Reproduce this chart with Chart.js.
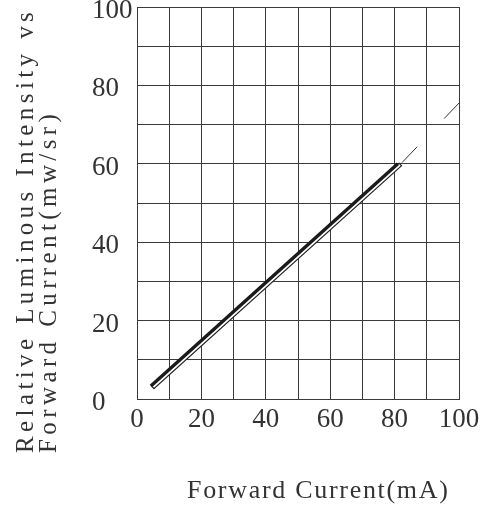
<!DOCTYPE html>
<html>
<head>
<meta charset="utf-8">
<script src="https://cdn.jsdelivr.net/npm/chart.js@4.4.1/dist/chart.umd.min.js"></script>
<style>
  html, body { margin: 0; padding: 0; background: #fff; }
  #wrap { width: 488px; height: 508px; position: relative; }
</style>
</head>
<body>
<div id="wrap"><canvas id="ivChart"></canvas></div>
<script>
// values (x: mA, y: mw/sr)
const mainLine = [{ x: 4.3, y: 3.3 }, { x: 81, y: 60 }];
const hollowOuter = [{ x: 4.76, y: 2.88 }, { x: 81.92, y: 59.92 }];
const hollowInner = [{ x: 5.04, y: 3.08 }, { x: 81.64, y: 59.72 }];
const dashedLine = [{ x: 82.3, y: 60.3 }, { x: 100, y: 75.5 }];

const xLabels = [0, 20, 40, 60, 80, 100];
const yLabels = [0, 20, 40, 60, 80, 100];

const xTitle = "Forward Current(mA)";
const yTitle = ["Relative Luminous Intensity vs", "Forward Current(mw/sr)"];

const inkColor = "#333";
const gridColor = "#3a3a3a";
const tickFont = { family: "'Liberation Serif', serif", size: 27 };

// axis titles are placed by hand, the CAD-like spacing is wider than normal
const titlePlugin = {
    id: "axisTitles",
    afterDraw(chart) {
        const ctx = chart.ctx;
        ctx.save();
        ctx.fillStyle = inkColor;
        ctx.textAlign = "left";
        ctx.textBaseline = "alphabetic";

        ctx.font = "26px 'Liberation Serif', serif";
        ctx.letterSpacing = "1.7px";
        ctx.fillText(xTitle, 187, 498);

        ctx.font = "25px 'Liberation Serif', serif";
        ctx.letterSpacing = "4.4px";
        const baseX = [33, 56];
        yTitle.forEach((line, i) => {
            ctx.save();
            ctx.translate(baseX[i], 453);
            ctx.rotate(-Math.PI / 2);
            ctx.fillText(line, 0, 0);
            ctx.restore();
        });
        ctx.restore();
    },
};

new Chart(document.getElementById("ivChart").getContext("2d"), {
    type: "line",
    data: {
        datasets: [
            {
                data: mainLine,
                borderColor: "#1b1b1b",
                borderWidth: 3.4,
                pointRadius: 0,
            },
            {
                data: hollowInner,
                borderColor: "#fff",
                borderWidth: 2.4,
                pointRadius: 0,
            },
            {
                data: hollowOuter,
                borderColor: "#1e1e1e",
                borderWidth: 4.6,
                pointRadius: 0,
            },
            {
                data: dashedLine,
                borderColor: "#333",
                borderWidth: 1,
                borderDash: [22, 39],
                pointRadius: 0,
            },
        ],
    },
    options: {
        responsive: true,
        maintainAspectRatio: false,
        animation: false,
        layout: { padding: { left: 92, right: 29, top: 7, bottom: 0 } },
        plugins: {
            legend: { display: false },
            tooltip: { enabled: false },
        },
        scales: {
            x: {
                type: "linear",
                min: 0,
                max: 100,
                grid: { color: gridColor, lineWidth: 1, drawTicks: false },
                border: { color: gridColor },
                ticks: {
                    stepSize: 10,
                    autoSkip: false,
                    maxRotation: 0,
                    padding: 5,
                    color: inkColor,
                    font: tickFont,
                    callback: (v) => (xLabels.includes(v) ? String(v) : ""),
                },
                afterFit(scale) {
                    scale.height = 109;
                    scale.paddingLeft = 0;
                    scale.paddingRight = 0;
                },
            },
            y: {
                type: "linear",
                min: 0,
                max: 100,
                grid: { color: gridColor, lineWidth: 1, drawTicks: false },
                border: { color: gridColor },
                ticks: {
                    stepSize: 10,
                    autoSkip: false,
                    padding: 4,
                    crossAlign: "far",
                    labelOffset: 4,
                    color: inkColor,
                    font: tickFont,
                    callback: (v) => (yLabels.includes(v) ? String(v) : ""),
                },
                afterFit(scale) {
                    scale.width = 45;
                    scale.paddingTop = 0;
                    scale.paddingBottom = 0;
                },
            },
        },
    },
    plugins: [titlePlugin],
});
</script>
</body>
</html>
